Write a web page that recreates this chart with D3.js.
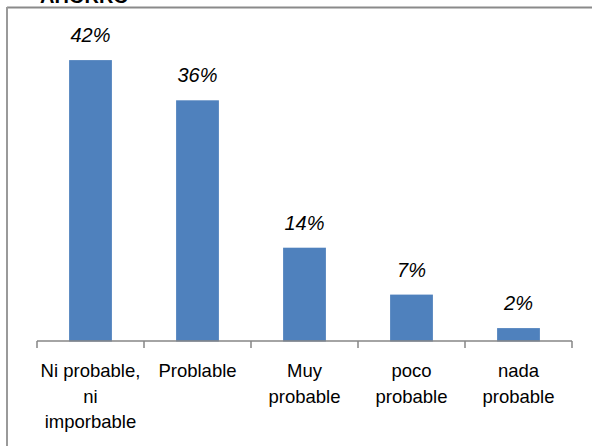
<!DOCTYPE html>
<html>
<head>
<meta charset="utf-8">
<script src="https://cdn.jsdelivr.net/npm/d3@7"></script>
<style>
  html, body { margin: 0; padding: 0; background: #fff; }
  svg { display: block; }
</style>
</head>
<body>
<svg id="chart" width="592" height="446"></svg>
<script>
const title = "AHORRO";
const categories = ["Ni probable, ni imporbable", "Problable", "Muy probable", "poco probable", "nada probable"];
const categoryLines = [["Ni probable,", "ni", "imporbable"], ["Problable"], ["Muy", "probable"], ["poco", "probable"], ["nada", "probable"]];
const values = [42, 36, 14, 7, 2];
const valueLabels = ["42%", "36%", "14%", "7%", "2%"];

const svg = d3.select("#chart");
const W = 592, H = 446;
const font = "'Liberation Sans', Arial, sans-serif";

// frame (partial border)
svg.append("line").attr("x1", 7).attr("x2", W).attr("y1", 7.5).attr("y2", 7.5)
  .attr("stroke", "#8a8a8a").attr("stroke-width", 2);
svg.append("line").attr("x1", 7).attr("x2", 7).attr("y1", 7).attr("y2", H)
  .attr("stroke", "#9a9a9a").attr("stroke-width", 2);

// title, cut off at the top edge as in the reference
svg.append("text").attr("x", 40).attr("y", 3)
  .attr("font-family", font).attr("font-weight", "bold").attr("font-size", 20)
  .attr("fill", "#000").text(title);

const x = d3.scaleBand().domain(categories).range([37, 572]).paddingInner(0.6).paddingOuter(0.3);
const y = d3.scaleLinear().domain([0, 45]).range([341.5, 40]);

svg.append("g").selectAll("rect").data(values).join("rect")
  .attr("x", (d, i) => x(categories[i]))
  .attr("width", x.bandwidth())
  .attr("y", d => y(d))
  .attr("height", d => y(0) - y(d))
  .attr("fill", "#4f81bd");

svg.append("g").selectAll("text").data(values).join("text")
  .attr("x", (d, i) => x(categories[i]) + x.bandwidth() / 2)
  .attr("y", d => y(d) - 18)
  .attr("text-anchor", "middle")
  .attr("font-family", font).attr("font-style", "italic").attr("font-size", 20)
  .attr("fill", "#000")
  .text((d, i) => valueLabels[i]);

// axis
const step = (572 - 37) / categories.length;
const axis = svg.append("g");
axis.append("line").attr("x1", 37).attr("x2", 572).attr("y1", 341).attr("y2", 341)
  .attr("stroke", "#868686").attr("stroke-width", 1.5);
axis.selectAll("line.tick").data(d3.range(categories.length + 1)).join("line")
  .attr("class", "tick")
  .attr("x1", i => 37 + i * step).attr("x2", i => 37 + i * step)
  .attr("y1", 341).attr("y2", 348)
  .attr("stroke", "#868686").attr("stroke-width", 1.5);

const lbl = svg.append("g").selectAll("text").data(categories).join("text")
  .attr("text-anchor", "middle")
  .attr("font-family", font).attr("font-size", 18.5)
  .attr("fill", "#000")
  .attr("x", d => x(d) + x.bandwidth() / 2)
  .attr("y", 377);
lbl.each(function(d, i) {
  const t = d3.select(this);
  categoryLines[i].forEach((line, j) => {
    t.append("tspan").attr("x", x(d) + x.bandwidth() / 2).attr("y", 377 + j * 25.5).text(line);
  });
});
</script>
</body>
</html>
